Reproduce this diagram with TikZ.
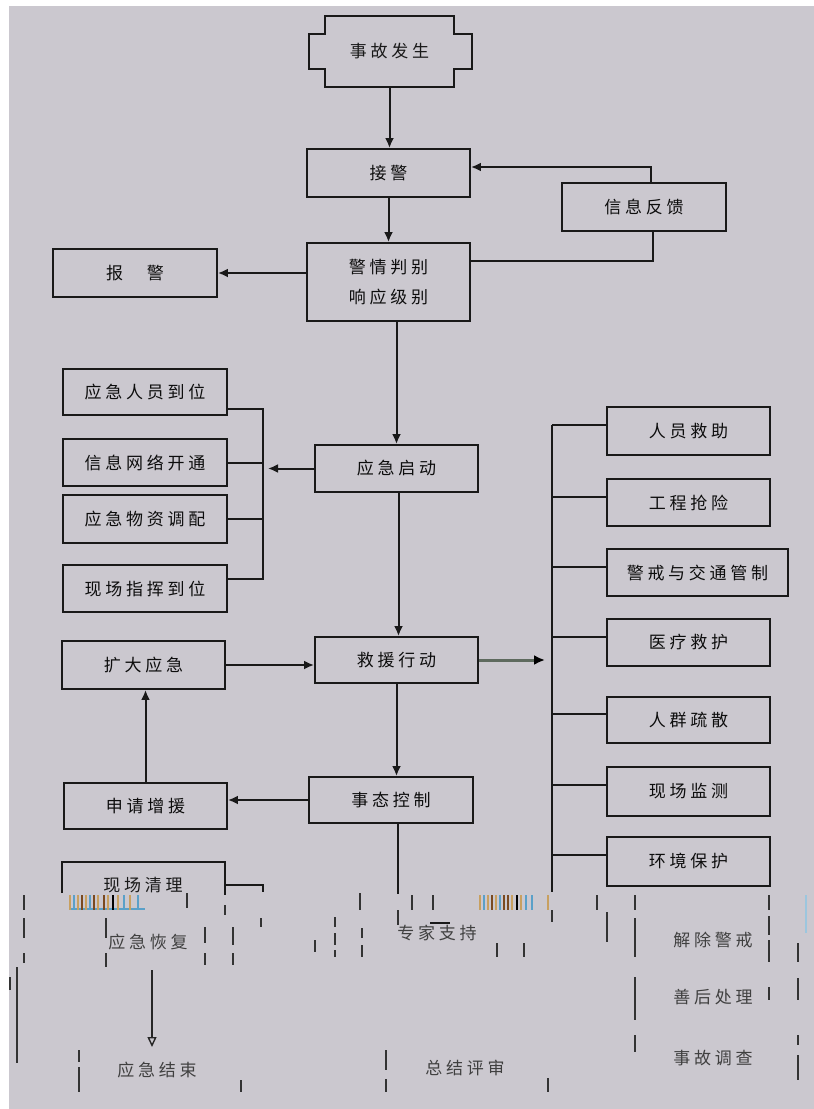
\documentclass[tikz,border=0pt]{standalone}
\usepackage{fontspec}
\newfontfamily\cjk[LetterSpace=22]{Noto Sans CJK SC}
\usetikzlibrary{arrows.meta,calc}
\definecolor{bg}{HTML}{CBC8CF}
\definecolor{arrgreen}{HTML}{5E6A5E}
\definecolor{fragblue}{HTML}{5AA0C8}
\definecolor{fragtan}{HTML}{C8A060}
\definecolor{fragbrown}{HTML}{7A4A20}
\begin{document}
\begin{tikzpicture}[x=1pt,y=-1pt,
  box/.style={draw=black!90, line width=1.9pt, inner sep=0pt, align=center,
    font=\cjk\fontsize{17}{30}\selectfont, text=black!95},
  lbl/.style={inner sep=0pt, align=center, font=\cjk\fontsize{17}{30}\selectfont, text=black!90},
  arr/.style={line width=2pt, draw=black!90, -{Latex[length=10pt,width=9pt]}},
  ln/.style={line width=2pt, draw=black!90},
  frag/.style={line width=1.6pt, draw=black!80},
  bw/.style={minimum width=163pt}]
\useasboundingbox (0,0) rectangle (814,1109);
\fill[bg] (9,6) rectangle (814,1109);

% top chain
\node[lbl, minimum width=129pt, minimum height=71pt] (sg) at (389.5,51.5) {事故发生};
\draw[ln, line width=1.9pt] (sg.north west) -- (sg.north east) -- ++(0,18) -- ++(18,0) -- ++(0,35) -- ++(-18,0)
  -- (sg.south east) -- (sg.south west) -- ++(0,-18) -- ++(-16,0) -- ++(0,-35) -- ++(16,0) -- cycle;
\node[box, bw, minimum height=48pt] (jj) at (388.5,173) {接警};
\node[box, bw, minimum height=78pt] (pb) at (388.5,282) {警情判别\\响应级别};
\node[box, minimum width=164pt, minimum height=48pt] (bj) at (135,273) {报\hspace{24pt}警};
\node[box, minimum width=164pt, minimum height=48pt] (fk) at (644,207) {信息反馈};
\node[box, bw, minimum height=47pt] (qd) at (396.5,468.5) {应急启动};

\draw[arr] (sg.south) -- (sg.south |- jj.north);
\draw[arr] (jj.south) -- (pb.north);
\draw[arr] (pb.west |- bj.east) -- (bj.east);
\draw[arr] ([xshift=7pt]fk.north) |- ([yshift=6pt]jj.east);
\draw[ln] ([xshift=9pt]fk.south) |- ([yshift=21pt]pb.east);
\draw[arr] (pb.south -| qd.north) -- (qd.north);

% left group
\node[box, minimum width=164pt, minimum height=46pt] (L1) at (145,392) {应急人员到位};
\node[box, minimum width=164pt, minimum height=47pt] (L2) at (145,462.5) {信息网络开通};
\node[box, minimum width=164pt, minimum height=48pt] (L3) at (145,519) {应急物资调配};
\node[box, minimum width=164pt, minimum height=47pt] (L4) at (145,588.5) {现场指挥到位};
\coordinate (lbus) at (263,500);
\coordinate (l1c) at ($(L1.north east)!0.85!(L1.south east)$);
\coordinate (l2c) at ($(L2.north east)!0.51!(L2.south east)$);
\coordinate (l3c) at ($(L3.north east)!0.5!(L3.south east)$);
\coordinate (l4c) at ($(L4.north east)!0.3!(L4.south east)$);
\draw[ln] (l1c) -- (l1c -| lbus) -- (l4c -| lbus) -- (l4c);
\draw[ln] (l2c) -- (l2c -| lbus);
\draw[ln] (l3c) -- (l3c -| lbus);
\draw[arr] (qd.west) -- ([xshift=5pt]qd.west -| lbus);

% middle
\node[box, bw, minimum height=46pt] (jy) at (396.5,660) {救援行动};
\node[box, bw, minimum height=48pt] (kd) at (143.5,665) {扩大应急};
\node[box, minimum width=164pt, minimum height=46pt] (tk) at (391,800) {事态控制};
\node[box, bw, minimum height=46pt] (sq) at (145.5,806) {申请增援};
\draw[arr] ([xshift=2pt]qd.south) -- ([xshift=2pt]qd.south |- jy.north);
\draw[arr] (kd.east) -- (kd.east -| jy.west);
\draw[arr] (jy.south) -- (jy.south |- tk.north);
\draw[arr] (tk.west) -- (tk.west -| sq.east);
\draw[arr] (sq.north) -- (sq.north |- kd.south);
\draw[ln] ([xshift=7pt]tk.south) -- ++(0,70);

% right group
\node[box, bw, minimum height=48pt] (R1) at (688.5,431) {人员救助};
\node[box, bw, minimum height=47pt] (R2) at (688.5,502.5) {工程抢险};
\node[box, minimum width=181pt, minimum height=47pt] (R3) at (697.5,572.5) {警戒与交通管制};
\node[box, bw, minimum height=47pt] (R4) at (688.5,642.5) {医疗救护};
\node[box, bw, minimum height=46pt] (R5) at (688.5,720) {人群疏散};
\node[box, bw, minimum height=49pt] (R6) at (688.5,791.5) {现场监测};
\node[box, bw, minimum height=49pt] (R7) at (688.5,861.5) {环境保护};
\coordinate (rtop) at (552,425);
\coordinate (rbot) at (552,892);
\draw[ln] (rtop) -- (rbot);
\foreach \r in {R1,R2,R3,R4,R5,R6,R7}{
  \draw[ln] ($(\r.north west)!0.38!(\r.south west)$) coordinate (c) -- (c -| rtop);
}
\coordinate (rarr) at (545,660);
\draw[line width=3pt, arrgreen, -{Latex[length=11pt,width=10pt,black]}] (jy.east) -- (rarr);

% bottom (broken) section
\node[lbl] (xc) at (143,885) {现场清理};
\draw[ln] (62,893) -- (62,862) -- (225,862) -- (225,895);
\draw[ln] (225,885) -- (263,885) -- (263,892);
\draw[line width=2pt, fragblue] (70,909) -- (145,909);
\foreach \x/\c in {70/fragtan,74/fragblue,78/fragtan,82/fragbrown,86/fragtan,90/fragblue,94/fragbrown,98/fragtan,104/fragbrown,108/fragtan,113/black,118/fragtan,124/fragblue,130/fragtan,138/fragblue,480/fragtan,484/fragblue,488/fragtan,492/fragbrown,496/fragtan,500/fragblue,504/fragbrown,508/fragbrown,512/fragtan,517/black,521/fragtan,526/fragblue,532/fragblue,548/fragtan}
  \draw[line width=1.3pt, \c] (\x,895) -- (\x,910);
\node[lbl, text=black!75] (hf) at (148,942) {应急恢复};
\node[lbl, text=black!75] (js) at (157,1070) {应急结束};
\node[lbl, text=black!75] (zj) at (437,933) {专家支持};
\node[lbl, text=black!75] (ps) at (465,1068) {总结评审};
\node[lbl, text=black!75] (jc) at (713,940) {解除警戒};
\node[lbl, text=black!75] (sh) at (713,997) {善后处理};
\node[lbl, text=black!75] (dc) at (713,1058) {事故调查};
\coordinate (hfa) at (152,970);
\coordinate (jsa) at (152,1047);
\draw[line width=1.4pt, black!85, -{Triangle[open,length=10pt,width=9pt]}] (hfa) -- (jsa);
\draw[ln] (430,923) -- (450,923);
\foreach \x/\a/\b in {24/895/910,24/918/938,24/953/963,17/967/1063,10/977/990,79/1050/1062,79/1067/1092,
  106/918/938,106/953/967,187/893/908,205/927/943,205/953/965,233/927/945,233/953/965,261/918/927,
  360/893/910,335/917/927,335/933/945,335/950/957,362/928/938,362/945/957,315/940/952,398/910/925,412/895/910,433/895/910,
  241/1080/1092,386/1050/1070,386/1079/1092,552/910/922,597/895/910,607/912/942,635/895/910,635/918/957,
  635/977/1020,635/1035/1052,769/895/910,769/916/935,769/940/962,769/987/1000,798/943/962,798/978/1000,
  798/1035/1045,798/1055/1080,497/943/957,524/943/957,548/1078/1092,225/905/915}
  \draw[frag] (\x,\a) -- (\x,\b);
\draw[line width=1.3pt, fragblue!60] (806,895) -- (806,933);
\end{tikzpicture}
\end{document}
